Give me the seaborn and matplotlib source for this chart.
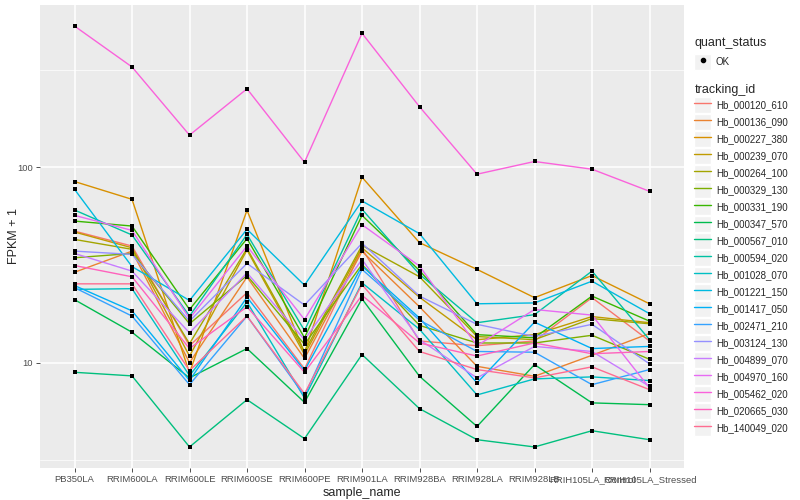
import numpy as np
import pandas as pd
import matplotlib
matplotlib.use('Agg')
import matplotlib.pyplot as plt
from matplotlib.lines import Line2D
from matplotlib.patches import Rectangle
from matplotlib.legend_handler import HandlerTuple
import seaborn as sns

# =============================================================================
# DADOS (FPKM + 1)
# =============================================================================
samples = ['PB350LA', 'RRIM600LA', 'RRIM600LE', 'RRIM600SE', 'RRIM600PE',
           'RRIM901LA', 'RRIM928BA', 'RRIM928LA', 'RRIM928LB',
           'RRIH105LA_Control', 'RRIH105LA_Stressed']

tracking_ids = ['Hb_000120_610', 'Hb_000136_090', 'Hb_000227_380', 'Hb_000239_070',
                'Hb_000264_100', 'Hb_000329_130', 'Hb_000331_190', 'Hb_000347_570',
                'Hb_000567_010', 'Hb_000594_020', 'Hb_001028_070', 'Hb_001221_150',
                'Hb_001417_050', 'Hb_002471_210', 'Hb_003124_130', 'Hb_004899_070',
                'Hb_004970_160', 'Hb_005462_020', 'Hb_020665_030', 'Hb_140049_020']

hb_000120_610 = [47.1, 39.5, 12.2, 22.8, 9.28, 38.3, 12.9, 12.2, 12.9, 21.5, 12.9]
hb_000136_090 = [29.0, 37.2, 10.0, 27.4, 10.5, 37.1, 19.3, 9.57, 8.51, 10.9, 14.1]
hb_000227_380 = [84.5, 68.5, 8.86, 60.2, 11.2, 88.9, 41.1, 30.0, 21.5, 27.9, 20.0]
hb_000239_070 = [46.6, 38.7, 10.8, 37.7, 11.0, 38.7, 21.6, 13.1, 13.9, 17.2, 16.0]
hb_000264_100 = [42.7, 38.0, 12.5, 38.4, 11.4, 39.8, 27.5, 13.6, 13.1, 16.8, 15.8]
hb_000329_130 = [34.4, 36.2, 15.8, 27.9, 12.4, 31.8, 15.5, 12.6, 12.6, 13.8, 10.4]
hb_000331_190 = [53.0, 50.0, 18.7, 43.1, 13.4, 56.7, 29.6, 13.9, 13.4, 21.9, 16.3]
hb_000347_570 = [21.0, 14.3, 8.35, 11.8, 6.26, 21.2, 8.51, 4.71, 9.77, 6.22, 6.09]
hb_000567_010 = [8.92, 8.55, 3.70, 6.46, 4.08, 11.0, 5.81, 4.03, 3.70, 4.48, 4.03]
hb_000594_020 = [60.4, 45.0, 17.3, 45.3, 14.6, 60.9, 28.3, 16.0, 17.6, 29.4, 13.1]
hb_001028_070 = [23.7, 23.9, 8.58, 20.4, 6.59, 25.6, 14.8, 6.83, 8.25, 8.45, 8.09]
hb_001221_150 = [77.1, 31.0, 20.8, 48.1, 24.9, 67.2, 45.7, 20.0, 20.2, 26.1, 17.8]
hb_001417_050 = [24.8, 18.4, 8.11, 21.6, 9.10, 31.2, 16.9, 7.87, 16.1, 11.8, 12.1]
hb_002471_210 = [24.2, 17.3, 7.71, 17.3, 6.77, 30.0, 16.5, 11.4, 11.3, 7.71, 9.21]
hb_003124_130 = [37.2, 35.8, 16.3, 32.2, 19.7, 40.8, 21.9, 15.7, 13.6, 15.7, 9.85]
hb_004899_070 = [36.2, 29.4, 14.2, 28.8, 13.1, 33.7, 13.1, 8.35, 12.1, 11.4, 7.56]
hb_004970_160 = [56.7, 47.5, 16.8, 39.5, 16.6, 50.8, 31.2, 12.2, 18.7, 17.5, 7.42]
hb_005462_020 = [528, 326, 146, 252, 106, 485, 204, 92.1, 107, 97.7, 75.3]
hb_020665_030 = [31.4, 27.5, 11.8, 19.3, 8.92, 22.1, 12.6, 10.8, 12.6, 11.1, 11.4]
hb_140049_020 = [25.3, 25.3, 9.10, 17.3, 6.93, 25.1, 11.4, 9.21, 8.35, 9.51, 7.27]

series = [hb_000120_610, hb_000136_090, hb_000227_380, hb_000239_070, hb_000264_100,
          hb_000329_130, hb_000331_190, hb_000347_570, hb_000567_010, hb_000594_020,
          hb_001028_070, hb_001221_150, hb_001417_050, hb_002471_210, hb_003124_130,
          hb_004899_070, hb_004970_160, hb_005462_020, hb_020665_030, hb_140049_020]

# paleta hue do ggplot2 para 20 niveis
colors = ['#F8766D', '#EA8331', '#D89000', '#C09B00', '#A3A500', '#7CAE00', '#39B600',
          '#00BB4E', '#00BF7D', '#00C1A3', '#00BFC4', '#00BAE0', '#00B0F6', '#35A2FF',
          '#9590FF', '#C77CFF', '#E76BF3', '#FA62DB', '#FF62BC', '#FF6C91']

# formato longo
rows = []
for tid, vals in zip(tracking_ids, series):
    for i, (s, v) in enumerate(zip(samples, vals)):
        rows.append({'tracking_id': tid, 'sample_name': s, 'pos': i, 'fpkm': v})
df = pd.DataFrame(rows)

# =============================================================================
# PLOTAGEM
# =============================================================================
sns.set_theme(style='darkgrid')
plt.rcParams['font.family'] = ['Liberation Sans', 'DejaVu Sans']

fig = plt.figure(figsize=(8, 5), dpi=100)
ax = fig.add_axes([0.05, 0.064, 0.805, 0.926])
ax.set_facecolor('#EBEBEB')

sns.lineplot(data=df, x='pos', y='fpkm', hue='tracking_id', hue_order=tracking_ids,
             palette=colors, linewidth=1.0, sort=False, legend=False, ax=ax,
             estimator=None)
sns.scatterplot(data=df, x='pos', y='fpkm', color='black', s=11, linewidth=0,
                marker='s', legend=False, ax=ax, zorder=5)

ax.set_yscale('log')
lo, hi = np.log10(df['fpkm'].min()), np.log10(df['fpkm'].max())
pad = (hi - lo) * 0.05
ax.set_ylim(10 ** (lo - pad), 10 ** (hi + pad))
ax.set_xlim(-0.6, len(samples) - 0.4)

ax.set_yticks([10, 100])
ax.set_yticklabels(['10', '100'])
ax.yaxis.set_minor_locator(matplotlib.ticker.FixedLocator([10 ** 0.5, 10 ** 1.5, 10 ** 2.5]))
ax.yaxis.set_minor_formatter(matplotlib.ticker.NullFormatter())
ax.set_xticks(range(len(samples)))
ax.set_xticklabels(samples)

ax.grid(which='major', color='white', linewidth=1.1)
ax.grid(which='minor', axis='y', color='white', linewidth=0.5)
ax.tick_params(which='major', length=3, width=0.6, color='#333333', direction='out',
               labelsize=6.8, labelcolor='#4D4D4D', pad=2, bottom=True, left=True)
ax.tick_params(which='minor', length=0)
for sp in ax.spines.values():
    sp.set_visible(False)

ax.set_xlabel('sample_name', fontsize=9, labelpad=1)
ax.set_ylabel('FPKM + 1', fontsize=9)
ax.yaxis.set_label_coords(-0.031, 0.5)
ax.xaxis.set_label_coords(0.5, -0.04)

# legendas no estilo ggplot
key_bg = dict(facecolor='#F2F2F2', edgecolor='white', linewidth=1)
h_ok = [(Rectangle((0, 0), 1, 1, **key_bg),
         Line2D([], [], marker='o', color='black', linestyle='', markersize=3))]
leg1 = fig.legend(h_ok, ['OK'], title='quant_status', loc='upper left',
                  bbox_to_anchor=(0.862, 0.935), frameon=False, fontsize=7,
                  title_fontsize=9, handlelength=1.7, handleheight=2.1,
                  handletextpad=0.5, borderpad=0, alignment='left',
                  handler_map={tuple: HandlerTuple(ndivide=1)})

h_ids = [(Rectangle((0, 0), 1, 1, **key_bg), Line2D([], [], color=c, linewidth=1.0))
         for c in colors]
leg2 = fig.legend(h_ids, tracking_ids, title='tracking_id', loc='upper left',
                  bbox_to_anchor=(0.862, 0.842), frameon=False, fontsize=7,
                  title_fontsize=9, handlelength=1.7, handleheight=2.1,
                  handletextpad=0.5, labelspacing=0.14, borderpad=0, alignment='left',
                  handler_map={tuple: HandlerTuple(ndivide=1)})

fig.savefig('out.png', dpi=100)
